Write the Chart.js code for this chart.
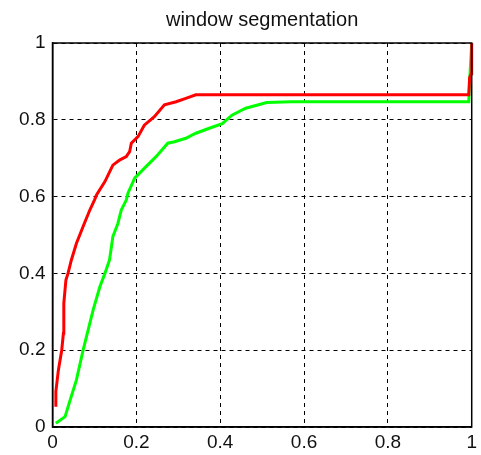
<!DOCTYPE html>
<html><head><meta charset="utf-8">
<script src="https://cdn.jsdelivr.net/npm/chart.js@4/dist/chart.umd.min.js"></script>
<style>html,body{margin:0;padding:0;background:#fff}#wrap{width:481px;height:455px}</style>
</head><body><div id="wrap"><canvas id="c" width="481" height="455"></canvas></div>
<script>
const titleText = "window segmentation";
const tickValues = [0, 0.2, 0.4, 0.6, 0.8, 1];
const redX = [0.008, 0.008, 0.014, 0.022, 0.026, 0.027, 0.032, 0.037, 0.045, 0.057, 0.073, 0.089, 0.1, 0.105, 0.125, 0.144, 0.16, 0.176, 0.184, 0.188, 0.204, 0.219, 0.243, 0.267, 0.295, 0.318, 0.342, 0.993, 0.995, 0.999, 1.0];
const redY = [0.053, 0.092, 0.148, 0.2, 0.244, 0.322, 0.383, 0.4, 0.435, 0.478, 0.522, 0.565, 0.591, 0.604, 0.639, 0.682, 0.695, 0.704, 0.717, 0.739, 0.756, 0.786, 0.808, 0.839, 0.847, 0.856, 0.865, 0.865, 0.91, 0.92, 1.0];
const greenX = [0.008, 0.03, 0.042, 0.057, 0.073, 0.097, 0.113, 0.125, 0.136, 0.144, 0.156, 0.164, 0.176, 0.18, 0.196, 0.223, 0.247, 0.275, 0.291, 0.318, 0.342, 0.374, 0.405, 0.428, 0.461, 0.511, 0.571, 0.993, 0.995, 1.0];
const greenY = [0.01, 0.027, 0.07, 0.122, 0.2, 0.305, 0.365, 0.4, 0.435, 0.496, 0.53, 0.565, 0.591, 0.609, 0.648, 0.678, 0.704, 0.739, 0.743, 0.752, 0.765, 0.778, 0.79, 0.812, 0.83, 0.845, 0.847, 0.847, 0.9, 1.0];

const toPts = (xs, ys) => xs.map((x, i) => ({x: x, y: ys[i]}));
const fmt = v => (Math.abs(v) < 1e-9 ? "0" : (Math.abs(v - 1) < 1e-9 ? "1" : String(Math.round(v * 10) / 10)));
const FONT = 'Arial, "Liberation Sans", sans-serif';

const frame = {
  id: 'frame',
  afterDatasetsDraw(chart) {
    const a = chart.chartArea, ctx = chart.ctx;
    ctx.save();
    ctx.strokeStyle = '#000';
    ctx.lineWidth = 1.5;
    ctx.strokeRect(a.left, a.top, a.right - a.left, a.bottom - a.top);
    ctx.restore();
  }
};

new Chart(document.getElementById('c'), {
  type: 'scatter',
  data: {
    datasets: [
      {data: toPts(redX, redY), showLine: true, borderColor: '#ff0000', borderWidth: 3, pointRadius: 0, tension: 0, fill: false, clip: 2},
      {data: toPts(greenX, greenY), showLine: true, borderColor: '#00ff00', borderWidth: 3, pointRadius: 0, tension: 0, fill: false, clip: 2}
    ]
  },
  options: {
    responsive: false,
    animation: false,
    layout: {padding: {left: 0, right: 7, top: 0, bottom: 0}},
    plugins: {
      legend: {display: false},
      tooltip: {enabled: false},
      title: {display: true, text: titleText, fullSize: false, color: '#111',
        font: {family: FONT, size: 20, weight: 'normal'},
        padding: {top: 8.5, bottom: 10.5}}
    },
    scales: {
      x: {
        type: 'linear', min: 0, max: 1,
        afterBuildTicks: s => { s.ticks = tickValues.map(v => ({value: v})); },
        afterFit: s => { s.height = 28; },
        ticks: {callback: v => fmt(v), color: '#111', padding: 4, maxRotation: 0,
          font: {family: FONT, size: 19}},
        grid: {color: '#000', lineWidth: 1, drawTicks: false},
        border: {display: true, color: '#000', width: 1.5, dash: [4, 4]}
      },
      y: {
        type: 'linear', min: 0, max: 1,
        afterBuildTicks: s => { s.ticks = tickValues.map(v => ({value: v})); },
        afterFit: s => { s.width = 52.5; },
        ticks: {callback: v => fmt(v), color: '#111', padding: 7,
          font: {family: FONT, size: 19}},
        grid: {color: '#000', lineWidth: 1, drawTicks: false},
        border: {display: true, color: '#000', width: 1.5, dash: [4, 4]}
      }
    }
  },
  plugins: [frame]
});
</script></body></html>
